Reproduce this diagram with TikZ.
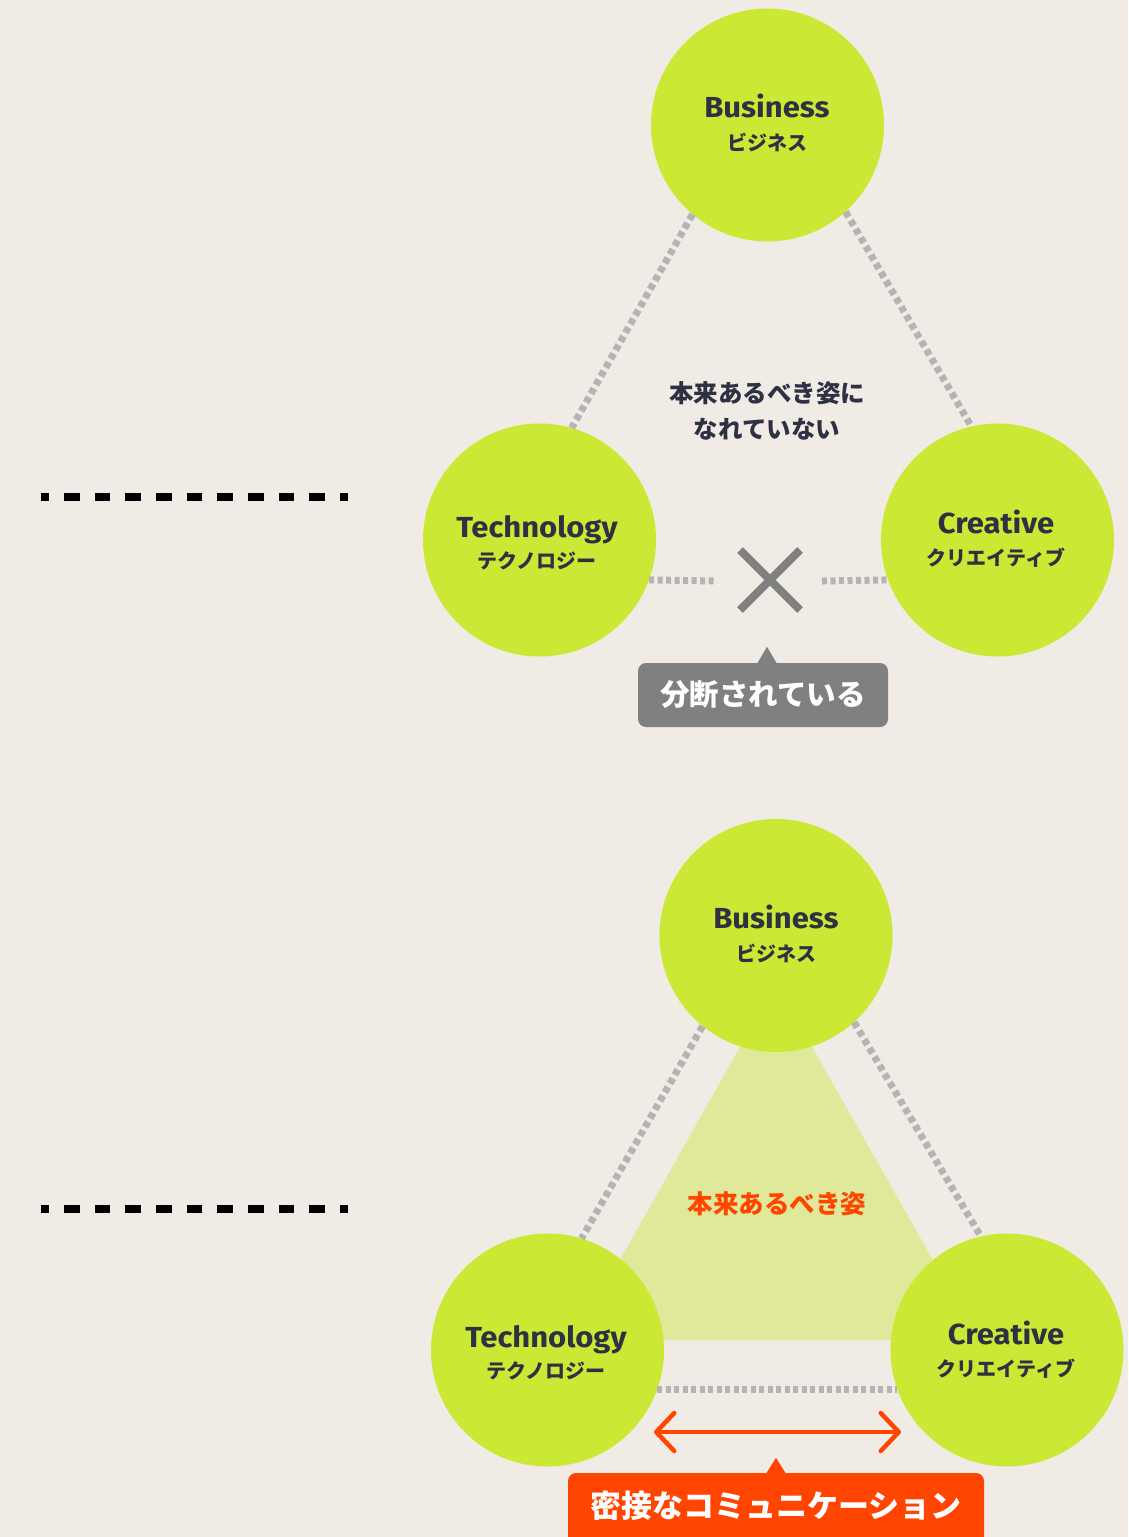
\documentclass[tikz,border=0pt]{standalone}
\usepackage{fontspec}
\newfontfamily\jp{Noto Sans CJK JP}
\newfontfamily\lat{Fira Sans}[FakeStretch=1.07]
\usetikzlibrary{arrows.meta}
\definecolor{bg}{HTML}{F0EBE5}
\definecolor{lime}{HTML}{CBE834}
\definecolor{ink}{HTML}{2D3142}
\definecolor{dotgray}{HTML}{B4B4B4}
\definecolor{midgray}{HTML}{808080}
\definecolor{orred}{HTML}{FF4500}
\definecolor{pale}{HTML}{DFE999}
\begin{document}
\begin{tikzpicture}[x=1pt,y=-1pt,
  circ/.style={circle,fill=lime,minimum size=233pt,inner sep=0pt},
  entitle/.style={anchor=base,text=ink,font=\lat\bfseries\fontsize{29}{30}\selectfont},
  jpsub/.style={anchor=center,text=ink,font=\jp\bfseries\fontsize{20}{22}\selectfont},
  midtext/.style={anchor=center,text=ink,font=\jp\bfseries\fontsize{24.5}{26}\selectfont},
  dotline/.style={draw=dotgray,line width=7pt,dash pattern=on 6pt off 4pt},
  hdot/.style={draw=dotgray,line width=7pt,dash pattern=on 5pt off 3.5pt},
  sepline/.style={draw=black,line width=8.3pt,dash pattern=on 15.67pt off 15pt,dash phase=7.67pt},
  xmark/.style={draw=midgray,line width=8pt},
  gbox/.style={rectangle,rounded corners=8pt,fill=midgray,minimum width=250pt,minimum height=64pt,inner sep=0pt,
    text=white,font=\jp\bfseries\fontsize{29.5}{31}\selectfont},
  rbox/.style={rectangle,rounded corners=8pt,fill=orred,minimum width=416pt,minimum height=100pt,inner sep=0pt},
  rtext/.style={anchor=center,text=white,font=\jp\bfseries\fontsize{31}{33}\selectfont},
  rarrow/.style={draw=orred,line width=4.5pt,line cap=round,
    {Straight Barb[length=18pt,width=38pt,round]}-{Straight Barb[length=18pt,width=38pt,round]}}
]
\useasboundingbox (0,0) rectangle (1128,1537);
\clip (0,0) rectangle (1128,1537);
\fill[bg] (0,0) rectangle (1128,1537);

% ---------- left separators
\coordinate (s1a) at (41,497);
\coordinate (s1b) at (348,497);
\coordinate (s2a) at (41,1209);
\coordinate (s2b) at (348,1209);
\draw[sepline] (s1a) -- (s1b);
\draw[sepline] (s2a) -- (s2b);

% ---------- top diagram
\node[circ] (biz1) at (767.5,125) {};
\node[circ] (tech1) at (539.5,540) {};
\node[circ] (cre1) at (997.5,540) {};

\draw[dotline] (biz1.230.6) -- (tech1.74.8);
\draw[dotline] (biz1.312.5) -- (cre1.103.8);
\coordinate (h1a) at (717,581);
\coordinate (h1b) at (822,581);
\draw[hdot] (tech1.-20.6) -- (h1a);
\draw[hdot] (h1b) -- (cre1.200.6);

\node[entitle] (biz1t) at (767,117) {Business};
\node[jpsub] (biz1s) at (767,142) {ビジネス};
\node[entitle] (tech1t) at (537,537) {Technology};
\node[jpsub] (tech1s) at (537,561) {テクノロジー};
\node[entitle] (cre1t) at (996,533) {Creative};
\node[jpsub] (cre1s) at (996,558) {クリエイティブ};

\node[midtext] (m1) at (767,393) {本来あるべき姿に};
\node[midtext] (m2) at (767,429.5) {なれていない};

\coordinate (xa) at (740,550);
\coordinate (xb) at (800,610);
\coordinate (xc) at (740,610);
\coordinate (xd) at (800,550);
\draw[xmark] (xa) -- (xb);
\draw[xmark] (xc) -- (xd);

\node[gbox] (cut) at (763,695) {分断されている};
\fill[midgray] ([xshift=-6pt,yshift=-1pt]cut.north) -- ([xshift=4pt,yshift=16pt]cut.north) -- ([xshift=14pt,yshift=-1pt]cut.north) -- cycle;

% ---------- bottom diagram
\fill[pale] (776,983) -- (575,1340) -- (978,1340) -- cycle;

\node[circ] (biz2) at (776,935.5) {};
\node[circ] (tech2) at (547.5,1350) {};
\node[circ] (cre2) at (1007,1350) {};

\draw[dotline] (biz2.231.7) -- (tech2.73.5);
\draw[dotline] (biz2.312.4) -- (cre2.103.5);
\draw[hdot] (tech2.-20.6) -- (cre2.200.6);

\node[entitle] (biz2t) at (776,928) {Business};
\node[jpsub] (biz2s) at (776,953) {ビジネス};
\node[entitle] (tech2t) at (546,1347) {Technology};
\node[jpsub] (tech2s) at (546,1371) {テクノロジー};
\node[entitle] (cre2t) at (1006,1344) {Creative};
\node[jpsub] (cre2s) at (1006,1369) {クリエイティブ};

\node[midtext,text=orred,font=\jp\bfseries\fontsize{25.5}{27}\selectfont] (m3) at (777,1204) {本来あるべき姿};

\coordinate (ra) at (654,1432);
\coordinate (rb) at (901,1432);
\draw[rarrow] (ra) -- (rb);

\node[rbox] (comm) at (776,1523) {};
\fill[orred] ([xshift=-10pt,yshift=-1pt]comm.north) -- ([xshift=0pt,yshift=15pt]comm.north) -- ([xshift=10pt,yshift=-1pt]comm.north) -- cycle;
\node[rtext] (commt) at (776,1506) {密接なコミュニケーション};
\end{tikzpicture}
\end{document}
